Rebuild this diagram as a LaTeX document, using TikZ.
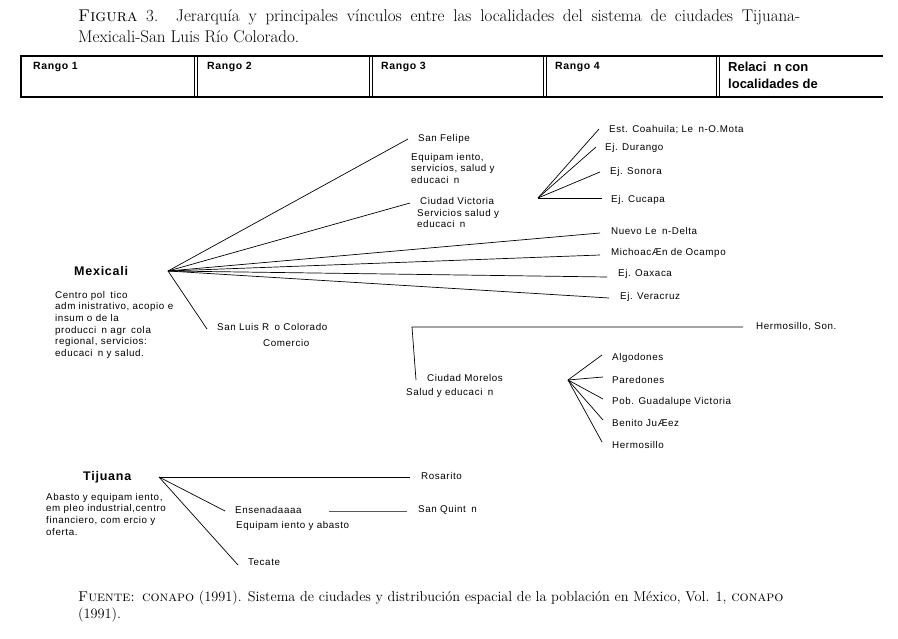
\documentclass[tikz,border=0pt]{standalone}
\usepackage{fontspec}
\newfontfamily\arl[LetterSpace=6]{Liberation Sans}
\newfontfamily\arlb[LetterSpace=6]{Liberation Sans}
\newcommand{\miss}{\hspace{0.55em}}
\begin{document}
\begin{tikzpicture}[x=1pt,y=-1pt,
  lab/.style={anchor=west,inner sep=0pt,font=\arl\fontsize{9.8}{11.6}\selectfont},
  desc/.style={anchor=north west,inner sep=0pt,align=left,font=\arl\fontsize{9.8}{11.6}\selectfont},
  hub/.style={anchor=west,inner sep=0pt,font=\arlb\bfseries\fontsize{12.5}{14}\selectfont},
  hdr/.style={anchor=west,inner sep=0pt,font=\arlb\bfseries\fontsize{10.5}{12}\selectfont},
  captext/.style={anchor=west,inner sep=0pt,font=\fontsize{17}{20}\selectfont},
  link/.style={line width=0.7pt},
  tab/.style={line width=1.1pt}]
\useasboundingbox (0,0) rectangle (898,639);
% title
\node[captext] (t1) at (78,17) {\makebox[722pt][s]{\textsc{Figura} 3. Jerarquía y principales vínculos entre las localidades del sistema de ciudades Tijuana-}};
\node[captext] (t2) at (78,37) {Mexicali-San Luis Río Colorado.};
% table
\draw[tab] (883,56) -- (21,56) -- (21,97) -- (883,97);
\foreach \xx in {196,371,545,718}{
  \draw[line width=0.8pt] (\xx-1.2,56) -- (\xx-1.2,97);
  \draw[line width=0.8pt] (\xx+1.2,56) -- (\xx+1.2,97);
}
\node[hdr] (h1) at (33,67) {Rango 1};
\node[hdr] (h2) at (207,67) {Rango 2};
\node[hdr] (h3) at (381,67) {Rango 3};
\node[hdr] (h4) at (555,67) {Rango 4};
\node[anchor=north west,inner sep=0pt,align=left,font=\bfseries\fontspec{Liberation Sans}\fontsize{13}{16.5}\selectfont] (h5) at (728,62) {Relaci\miss n con\\localidades de};
% Mexicali
\node[hub] (mexl) at (74,271) {Mexicali};
\node[desc] (mexd) at (55,291) {Centro pol\miss tico\\adm inistrativo, acopio e\\insum o de la\\producci\miss n agr\miss cola\\regional, servicios:\\educaci\miss n y salud.};
\coordinate (mx) at (168,271);
\coordinate (sfE) at (408,139);
\coordinate (cvE) at (410,203);
\coordinate (nlE) at (600,233);
\coordinate (miE) at (600,255);
\coordinate (oaE) at (607,277);
\coordinate (veE) at (609,298);
\coordinate (slE) at (207,329);
\foreach \e in {sfE,cvE,nlE,miE,oaE,veE,slE} \draw[link] (mx) -- (\e);
\node[lab] (sf) at (418,139) {San Felipe};
\node[desc] (sfd) at (411,153) {Equipam iento,\\servicios, salud y\\educaci\miss n};
\node[lab] (cv) at (420,201) {Ciudad Victoria};
\node[desc] (cvd) at (417,209) {Servicios salud y\\educaci\miss n};
\node[lab] (nl) at (611,231) {Nuevo Le\miss n-Delta};
\node[lab] (mi) at (611,253) {MichoacÆn de Ocampo};
\node[lab] (oa) at (618,274) {Ej. Oaxaca};
\node[lab] (ve) at (620,297) {Ej. Veracruz};
\node[lab] (sl) at (217,327) {San Luis R\miss o Colorado};
\node[lab] (slc) at (263,343) {Comercio};
% Rango 3 fan from Ciudad Victoria
\coordinate (cvH) at (538,198);
\coordinate (ecE) at (599,129);
\coordinate (duE) at (596,147);
\coordinate (soE) at (600,172);
\coordinate (cuE) at (602,198);
\foreach \e in {ecE,duE,soE,cuE} \draw[link] (cvH) -- (\e);
\node[lab] (ec) at (609,130) {Est. Coahuila; Le\miss n-O.Mota};
\node[lab] (du) at (605,148) {Ej. Durango};
\node[lab] (so) at (610,172) {Ej. Sonora};
\node[lab] (cu) at (611,200) {Ej. Cucapa};
% Ciudad Morelos
\coordinate (hsL) at (412,327);
\coordinate (hsE) at (743,327);
\coordinate (cmE) at (416,380);
\draw[link] (cmE) -- (hsL) -- (hsE);
\node[lab] (hs) at (756,327) {Hermosillo, Son.};
\node[lab] (cm) at (427,378) {Ciudad Morelos};
\node[lab] (cmd) at (406,393) {Salud y educaci\miss n};
\coordinate (cmH) at (568,380);
\coordinate (alE) at (602,355);
\coordinate (paE) at (603,377);
\coordinate (gvE) at (603,399);
\coordinate (bjE) at (603,420);
\coordinate (heE) at (602,442);
\foreach \e in {alE,paE,gvE,bjE,heE} \draw[link] (cmH) -- (\e);
\node[lab] (al) at (612,358) {Algodones};
\node[lab] (pa) at (612,380) {Paredones};
\node[lab] (gv) at (612,402) {Pob. Guadalupe Victoria};
\node[lab] (bj) at (612,423) {Benito JuÆez};
\node[lab] (he) at (612,445) {Hermosillo};
% Tijuana
\node[hub] (tjl) at (83,477) {Tijuana};
\node[desc] (tjd) at (46,493) {Abasto y equipam iento,\\em pleo industrial,centro\\financiero, com ercio y\\oferta.};
\coordinate (tj) at (159,477);
\coordinate (roE) at (410,477);
\coordinate (enE) at (225,511);
\coordinate (teE) at (238,565);
\foreach \e in {roE,enE,teE} \draw[link] (tj) -- (\e);
\node[lab] (ro) at (421,476) {Rosarito};
\node[lab] (en) at (235,510) {Ensenadaaaa};
\node[lab] (end) at (236,526) {Equipam iento y abasto};
\coordinate (enL) at (329,511);
\coordinate (sqE) at (407,511);
\draw[link,black!65] (enL) -- (sqE);
\node[lab] (sq) at (418,510) {San Quint\miss n};
\node[lab] (te) at (248,562) {Tecate};
% source
\node[captext,font=\fontsize{14.3}{17}\selectfont] (f1) at (78,598) {\textsc{Fuente: conapo} (1991). Sistema de ciudades y distribución espacial de la población en México, Vol. 1, \textsc{conapo}};
\node[captext,font=\fontsize{14.3}{17}\selectfont] (f2) at (78,615) {(1991).};
\end{tikzpicture}
\end{document}
